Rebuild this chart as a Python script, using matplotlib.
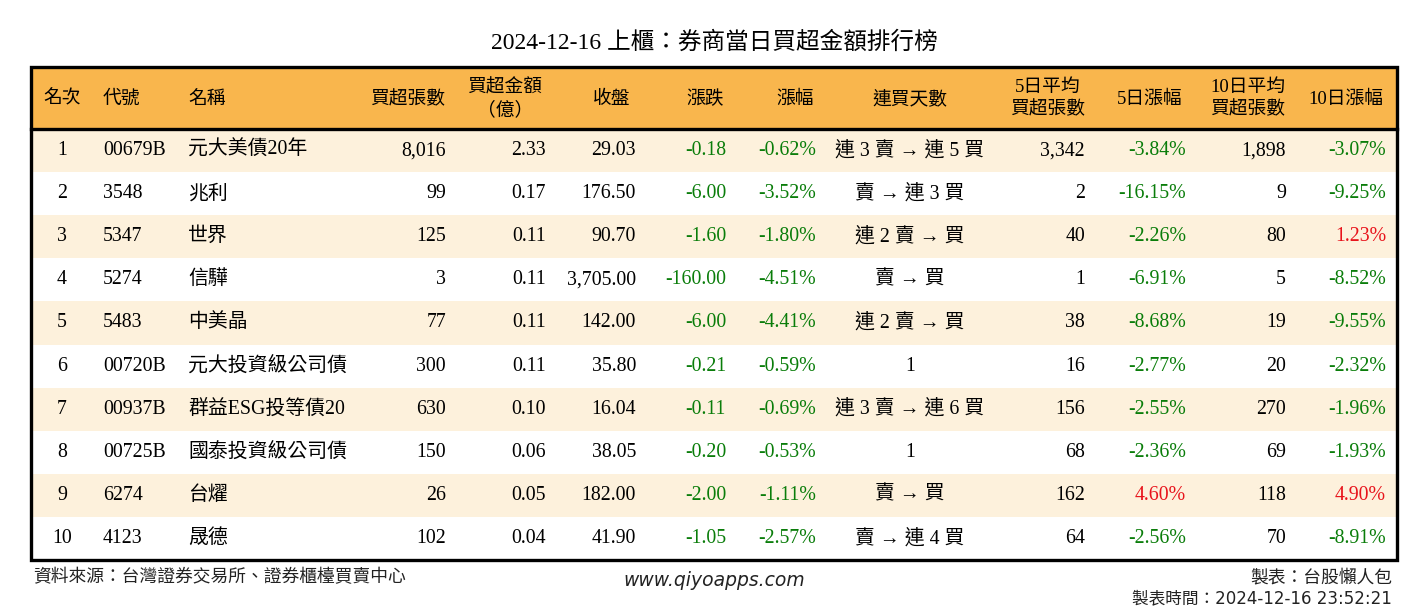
import matplotlib
matplotlib.use("Agg")
import matplotlib.pyplot as plt
from matplotlib.patches import Rectangle

# ---------------- data ----------------
title = "2024-12-16 上櫃：券商當日買超金額排行榜"
ranks = [1, 2, 3, 4, 5, 6, 7, 8, 9, 10]
codes = ["00679B", "3548", "5347", "5274", "5483", "00720B", "00937B", "00725B", "6274", "4123"]
names = ["元大美債20年", "兆利", "世界", "信驊", "中美晶", "元大投資級公司債",
         "群益ESG投等債20", "國泰投資級公司債", "台燿", "晟德"]
buy_lots = [8016, 99, 125, 3, 77, 300, 630, 150, 26, 102]
buy_amount = [2.33, 0.17, 0.11, 0.11, 0.11, 0.11, 0.10, 0.06, 0.05, 0.04]
close = [29.03, 176.50, 90.70, 3705.00, 142.00, 35.80, 16.04, 38.05, 182.00, 41.90]
change = [-0.18, -6.00, -1.60, -160.00, -6.00, -0.21, -0.11, -0.20, -2.00, -1.05]
change_pct = [-0.62, -3.52, -1.80, -4.51, -4.41, -0.59, -0.69, -0.53, -1.11, -2.57]
streak = ["連 3 賣 → 連 5 買", "賣 → 連 3 買", "連 2 賣 → 買", "賣 → 買", "連 2 賣 → 買",
          "1", "連 3 賣 → 連 6 買", "1", "賣 → 買", "賣 → 連 4 買"]
avg5_lots = [3342, 2, 40, 1, 38, 16, 156, 68, 162, 64]
pct5 = [-3.84, -16.15, -2.26, -6.91, -8.68, -2.77, -2.55, -2.36, 4.60, -2.56]
avg10_lots = [1898, 9, 80, 5, 19, 20, 270, 69, 118, 70]
pct10 = [-3.07, -9.25, 1.23, -8.52, -9.55, -2.32, -1.96, -1.93, 4.90, -8.91]
headers = ["名次", "代號", "名稱", "買超張數", "買超金額\n（億）", "收盤", "漲跌", "漲幅",
           "連買天數", "5日平均\n買超張數", "5日漲幅", "10日平均\n買超張數", "10日漲幅"]
source_text = "資料來源：台灣證券交易所、證券櫃檯買賣中心"
site_text = "www.qiyoapps.com"
maker_text = "製表：台股懶人包"
time_text = "製表時間：2024-12-16 23:52:21"

# ---------------- style ----------------
SERIF = ["Liberation Serif", "Noto Sans CJK TC"]
SANS = ["DejaVu Sans", "Noto Sans CJK TC"]
HEADER_BG = "#F9B64D"
ODD_BG = "#FDF1DC"
GREEN = "#0A7D0A"
RED = "#E8141C"
FS = 14.3

W, H = 1428, 612
fig = plt.figure(figsize=(W / 100, H / 100), dpi=100)
ax = fig.add_axes([0, 0, 1, 1])
ax.set_xlim(0, W)
ax.set_ylim(H, 0)
ax.axis("off")

left, right = 31, 1397
top, head_bot = 67, 129
row_h = 43.1
n = len(ranks)
bottom = head_bot + n * row_h

# header & rows background
ax.add_patch(Rectangle((left, top), right - left, head_bot - top, facecolor=HEADER_BG, edgecolor="none"))
for i in range(n):
    if i % 2 == 0:
        ax.add_patch(Rectangle((left, head_bot + i * row_h), right - left, row_h,
                               facecolor=ODD_BG, edgecolor="none"))
ax.add_patch(Rectangle((left, top), right - left, bottom - top, facecolor="none",
                       edgecolor="black", linewidth=2.4))
ax.plot([left, right], [head_bot, head_bot], color="black", linewidth=2.4)

# column layout: (align, x position of text anchor, header center x)
cols = [
    ("center", 62, 62),
    ("left", 103, 122),
    ("left", 188, 207),
    ("right", 446, 408),
    ("right", 546, 505),
    ("right", 636, 612),
    ("right", 726, 705),
    ("right", 816, 795),
    ("center", 910, 910),
    ("right", 1085, 1048),
    ("right", 1186, 1150),
    ("right", 1286, 1248),
    ("right", 1386, 1346),
]

head_y = (top + head_bot) / 2 + 1
for (al, xp, hx), htxt in zip(cols, headers):
    if al == "left":
        ax.text(xp, head_y, htxt, ha="left", va="center", fontsize=13.5, family=SERIF,
                linespacing=1.35)
    else:
        ax.text(hx, head_y, htxt, ha="center", va="center", fontsize=13.5, family=SERIF,
                linespacing=1.35, multialignment="center")


def sign_color(v):
    return GREEN if v < 0 else (RED if v > 0 else "black")


for i in range(n):
    y = head_bot + (i + 0.5) * row_h
    cells = [
        (str(ranks[i]), "black"),
        (codes[i], "black"),
        (names[i], "black"),
        (f"{buy_lots[i]:,}", "black"),
        (f"{buy_amount[i]:.2f}", "black"),
        (f"{close[i]:,.2f}", "black"),
        (f"{change[i]:.2f}", sign_color(change[i])),
        (f"{change_pct[i]:.2f}%", sign_color(change_pct[i])),
        (streak[i], "black"),
        (f"{avg5_lots[i]:,}", "black"),
        (f"{pct5[i]:.2f}%", sign_color(pct5[i])),
        (f"{avg10_lots[i]:,}", "black"),
        (f"{pct10[i]:.2f}%", sign_color(pct10[i])),
    ]
    for (al, xp, hx), (txt, colr) in zip(cols, cells):
        ax.text(xp, y, txt, ha=al, va="center", fontsize=FS, family=SERIF, color=colr)

# title
ax.text(W / 2, 43, title, ha="center", va="center", fontsize=17, family=SERIF)

# footer
ax.text(33, 577, source_text, ha="left", va="center", fontsize=12.8, family=SANS, color="#222222")
ax.text(714, 580, site_text, ha="center", va="center", fontsize=13.5, family=SANS,
        style="italic", color="#222222")
ax.text(1392, 577, maker_text, ha="right", va="center", fontsize=12.8, family=SANS, color="#222222")
ax.text(1392, 598, time_text, ha="right", va="center", fontsize=12.0, family=SANS, color="#222222")

fig.savefig("out.png", dpi=100, facecolor="white")
